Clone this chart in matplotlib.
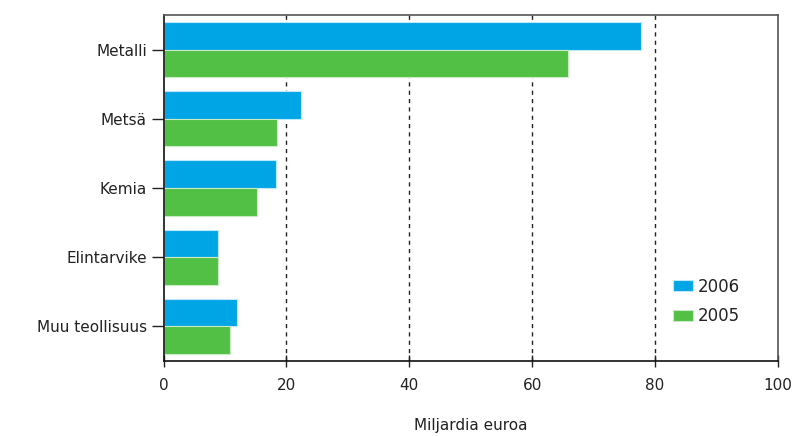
import numpy as np
import matplotlib
matplotlib.use('Agg')
import matplotlib.pyplot as plt

# Data
categories = ['Metalli', 'Metsä', 'Kemia', 'Elintarvike', 'Muu teollisuus']
values_2006 = [77.7, 22.3, 18.3, 8.8, 11.9]
values_2005 = [65.8, 18.4, 15.2, 8.8, 10.8]
xticks = [0, 20, 40, 60, 80, 100]

blue = '#00A5E6'
green = '#52BF45'

fig = plt.figure(figsize=(7.95, 4.36), dpi=100)
ax = fig.add_axes([0.2057, 0.172, 0.7729, 0.7936])

y = np.arange(len(categories))
h = 0.40
ax.barh(y - h / 2, values_2006, height=h, color=blue, edgecolor='#bfe8f8',
        linewidth=0.8, label='2006', zorder=2)
ax.barh(y + h / 2, values_2005, height=h, color=green, edgecolor='#c9ecc5',
        linewidth=0.8, label='2005', zorder=2)

ax.set_ylim(len(categories) - 0.5, -0.5)
ax.set_xlim(0, 100)
ax.set_xticks(xticks)
ax.set_yticks(y)
ax.set_yticklabels(categories)

for gx in xticks[1:-1]:
    ax.axvline(gx, color='#222222', linestyle=(0, (3, 3)), linewidth=1.0, zorder=1)

ax.tick_params(axis='x', direction='inout', length=8, width=1, labelsize=11,
               pad=8, colors='#222222')
ax.tick_params(axis='y', direction='out', length=9, width=1, labelsize=11,
               pad=3, colors='#222222')
for s in ['left', 'bottom']:
    ax.spines[s].set_color('#111111')
    ax.spines[s].set_linewidth(1.2)
for s in ['top', 'right']:
    ax.spines[s].set_color('#555555')
    ax.spines[s].set_linewidth(1.2)

ax.set_xlabel('Miljardia euroa', fontsize=11, labelpad=18, color='#222222')

leg = ax.legend(loc='lower left', bbox_to_anchor=(0.805, 0.06), frameon=False,
                fontsize=12, handlelength=1.2, handleheight=0.6, handletextpad=0.3,
                labelspacing=0.7)
for t in leg.get_texts():
    t.set_color('#222222')

plt.savefig('out.png', dpi=100)
